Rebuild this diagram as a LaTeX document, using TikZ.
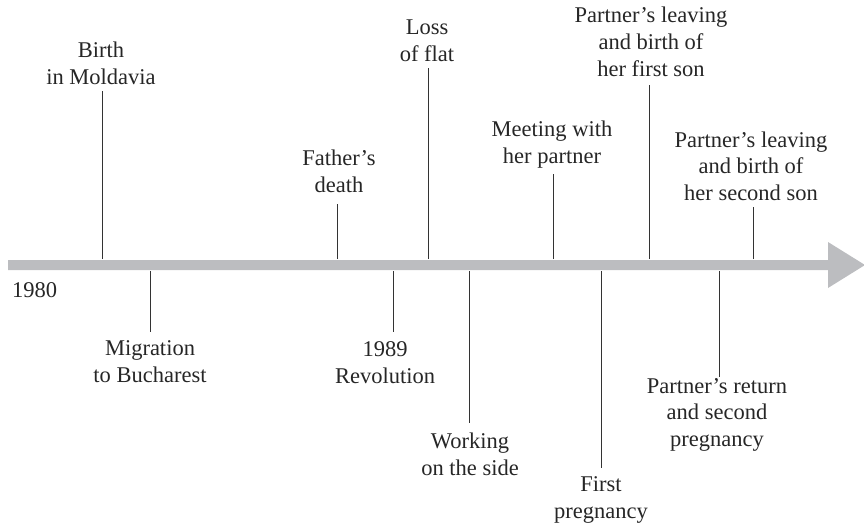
\documentclass[tikz,border=0pt]{standalone}
\usepackage{fontspec}
\setmainfont{Liberation Serif}
\begin{document}
\begin{tikzpicture}[x=1pt,y=-1pt,
  lbl/.style={font=\fontsize{22.5}{26.5}\selectfont, align=center, inner sep=0pt, anchor=base, text=black!85},
  tick/.style={draw=black!80, line width=1pt},
  axisfill/.style={fill=axisgray, draw=none}]
\definecolor{axisgray}{HTML}{BCBDC0}
\useasboundingbox (0,0) rectangle (864,527);

% time axis with arrow head
\coordinate (axis-start) at (8,265);
\coordinate (axis-tip) at (865,265);
\fill[axisfill] (8,260) -- (828,260) -- (828,242) -- (axis-tip) -- (828,288) -- (828,270) -- (8,270) -- cycle;
\node[lbl, anchor=base west] (start) at (12,297) {1980};

% events above the axis (placed by the baseline of their last line)
\node[lbl] (birth)  at (101,84)  {Birth\\in Moldavia};
\node[lbl] (fdeath) at (339,192) {Father’s\\death};
\node[lbl] (flat)   at (427,61)  {Loss\\of flat};
\node[lbl] (meet)   at (552,163) {Meeting with\\her partner};
\node[lbl] (leave1) at (651,76)  {Partner’s leaving\\and birth of\\her first son};
\node[lbl] (leave2) at (751,200) {Partner’s leaving\\and birth of\\her second son};

% events below the axis
\node[lbl] (migr)   at (150,382) {Migration\\to Bucharest};
\node[lbl] (revol)  at (385,383) {1989\\Revolution};
\node[lbl] (work)   at (470,475) {Working\\on the side};
\node[lbl] (preg1)  at (601,518) {First\\pregnancy};
\node[lbl] (ret)    at (717,446) {Partner’s return\\and second\\pregnancy};

% tick ends: on the axis and next to each label
\coordinate (birth-a)  at (102,259); \coordinate (birth-e)  at (102,91);
\coordinate (fdeath-a) at (337,259); \coordinate (fdeath-e) at (337,204);
\coordinate (flat-a)   at (428,259); \coordinate (flat-e)   at (428,68);
\coordinate (meet-a)   at (553,259); \coordinate (meet-e)   at (553,174);
\coordinate (leave1-a) at (649,259); \coordinate (leave1-e) at (649,85);
\coordinate (leave2-a) at (753,259); \coordinate (leave2-e) at (753,207);
\coordinate (migr-a)   at (150,271); \coordinate (migr-e)   at (150,332);
\coordinate (revol-a)  at (393,271); \coordinate (revol-e)  at (393,332);
\coordinate (work-a)   at (469,271); \coordinate (work-e)   at (469,423);
\coordinate (preg1-a)  at (601,271); \coordinate (preg1-e)  at (601,468);
\coordinate (ret-a)    at (719,271); \coordinate (ret-e)    at (719,377);

\foreach \ev in {birth,fdeath,flat,meet,leave1,leave2,migr,revol,work,preg1,ret}
  \draw[tick] (\ev-a) -- (\ev-e);
\end{tikzpicture}
\end{document}
